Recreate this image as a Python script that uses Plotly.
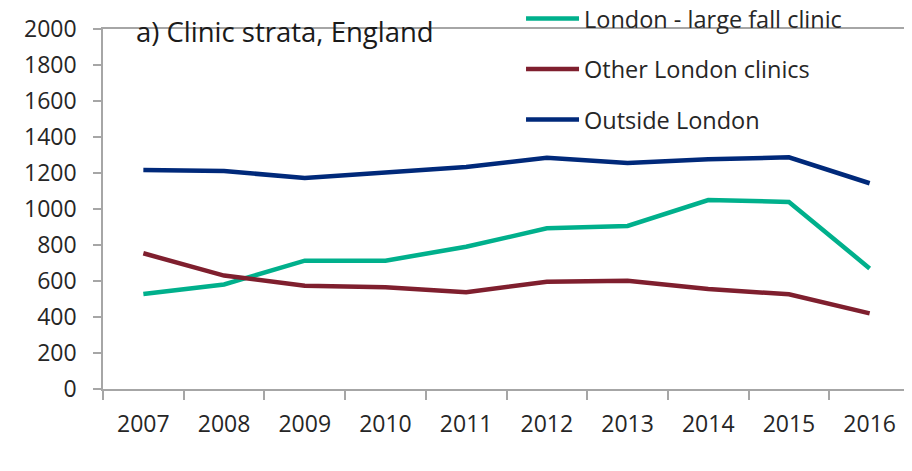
import plotly.graph_objects as go

years = ["2007", "2008", "2009", "2010", "2011", "2012", "2013", "2014", "2015", "2016"]
london_large_fall = [528, 581, 713, 713, 790, 893, 906, 1050, 1039, 670]
other_london = [754, 630, 574, 565, 537, 596, 602, 556, 526, 420]
outside_london = [1217, 1211, 1172, 1200, 1233, 1285, 1255, 1276, 1287, 1143]
y_ticks = [0, 200, 400, 600, 800, 1000, 1200, 1400, 1600, 1800, 2000]

FONT = "Open Sans"
fig = go.Figure()
series = [
    ("London - large fall clinic", london_large_fall, "#00B08C"),
    ("Other London clinics", other_london, "#7F1F2E"),
    ("Outside London", outside_london, "#00297A"),
]
for i, (name, vals, col) in enumerate(series):
    fig.add_trace(go.Scatter(x=years, y=vals, name=name, mode="lines",
                             line=dict(color=col, width=4.5), legendgroup=str(i)))

fig.update_layout(
    width=904, height=463,
    margin=dict(l=95, r=2, t=21, b=82, autoexpand=False),
    paper_bgcolor="white", plot_bgcolor="white",
    font=dict(family=FONT, color="#262626"),
    showlegend=True,
    legend=dict(x=0.518, xanchor="left", y=1.09, yanchor="top",
                font=dict(size=23.5, family=FONT, color="#262626"),
                bgcolor="rgba(0,0,0,0)", tracegroupgap=17, itemwidth=53),
    xaxis=dict(type="category", range=[-0.5, 9.5], automargin=False,
               showline=True, linecolor="#A6A6A6", linewidth=1.5,
               mirror=True, ticks="outside", tickson="boundaries", ticklen=9,
               tickcolor="#A6A6A6", tickwidth=1.5, showgrid=False,
               tickfont=dict(size=23), ticklabelstandoff=14),
    yaxis=dict(range=[0, 2000], tickvals=y_ticks, automargin=False, showline=True,
               linecolor="#A6A6A6", linewidth=1.5, mirror=True, ticks="outside",
               ticklen=8, tickcolor="#A6A6A6", tickwidth=1.5, showgrid=False,
               zeroline=False, tickfont=dict(size=23), ticklabelstandoff=12),
    annotations=[dict(text="a) Clinic strata, England", xref="paper", yref="paper",
                      x=0.038, y=0.994, xanchor="left", yanchor="middle", showarrow=False,
                      font=dict(size=27.5, family=FONT, color="#1a1a1a"))],
)
fig.write_html("out.html")
